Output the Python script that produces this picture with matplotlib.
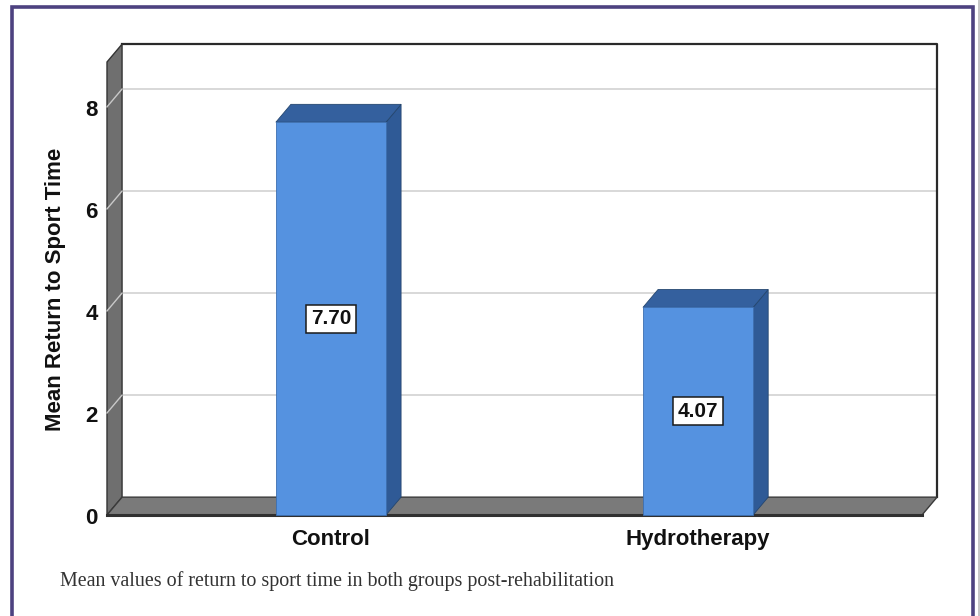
import matplotlib
matplotlib.use("Agg")
import matplotlib.pyplot as plt
from matplotlib.patches import Polygon, Rectangle
from matplotlib.lines import Line2D

# data
groups = ["Control", "Hydrotherapy"]
means = [7.70, 4.07]
yticks = [0, 2, 4, 6, 8]
ylabel = "Mean Return to Sport Time"
caption = "Mean values of return to sport time in both groups post-rehabilitation"

# colours
bar_front = "#5592e0"
bar_side = "#2f5a96"
bar_top = "#34609e"
wall_grey = "#6f6f6f"
floor_grey = "#7a7a7a"
grid_col = "#d6d6d6"
frame_col = "#4d4280"

XMIN, XMAX = -0.61, 1.61
YMAX = 8.88
BAR_W = 0.30
DX, DY = 0.041, 0.35   # depth of the 3D box in data units

fig = plt.figure(figsize=(9.8, 6.16), dpi=100)
fig.patch.set_facecolor("white")

# outer frame with a soft shadow on the right
fig.add_artist(Rectangle((978 / 980, -0.1), 0.004, 1.1, transform=fig.transFigure,
                         facecolor="#c8c8c8", edgecolor="none", zorder=0))
fig.add_artist(Rectangle((11.5 / 980, -0.05), 961 / 980, (609 / 616) + 0.05,
                         transform=fig.transFigure, facecolor="none",
                         edgecolor=frame_col, linewidth=2.6, zorder=1))

ax = fig.add_axes([107 / 980, 101 / 616, 815 / 980, 453 / 616])
ax.set_xlim(XMIN, XMAX)
ax.set_ylim(0, YMAX)
ax.axis("off")


def poly(pts, fc, ec="none", lw=0, z=1):
    ax.add_patch(Polygon(pts, closed=True, facecolor=fc, edgecolor=ec,
                         linewidth=lw, clip_on=False, zorder=z))


# back wall
poly([(XMIN + DX, DY), (XMAX + DX, DY), (XMAX + DX, YMAX + DY), (XMIN + DX, YMAX + DY)], "white", z=1)
for t in yticks[1:]:
    ax.add_line(Line2D([XMIN + DX, XMAX + DX], [t + DY, t + DY], color=grid_col,
                       lw=1.3, clip_on=False, zorder=2))
    ax.add_line(Line2D([XMIN, XMIN + DX], [t, t + DY], color="#c9c9c9",
                       lw=1.0, clip_on=False, zorder=4))
ax.add_line(Line2D([XMIN + DX, XMAX + DX, XMAX + DX], [YMAX + DY, YMAX + DY, DY],
                   color="#2a2a2a", lw=1.6, clip_on=False, zorder=3))

# left wall
poly([(XMIN, 0), (XMIN + DX, DY), (XMIN + DX, YMAX + DY), (XMIN, YMAX)],
     wall_grey, ec="#333333", lw=1.0, z=3)

# floor
poly([(XMIN, 0), (XMAX, 0), (XMAX + DX, DY), (XMIN + DX, DY)],
     floor_grey, ec="#3a3a3a", lw=1.0, z=3)
ax.add_line(Line2D([XMIN, XMAX], [0, 0], color="#303030", lw=2.2,
                   clip_on=False, zorder=5))

# bars
for i, v in enumerate(means):
    x0, x1 = i - BAR_W / 2, i + BAR_W / 2
    poly([(x1, 0), (x1 + DX, DY), (x1 + DX, v + DY), (x1, v)], bar_side,
         ec="#24466f", lw=0.6, z=6)
    poly([(x0, v), (x1, v), (x1 + DX, v + DY), (x0 + DX, v + DY)], bar_top,
         ec="#24466f", lw=0.6, z=6)
    ax.add_patch(Rectangle((x0, 0), BAR_W, v, facecolor=bar_front,
                           edgecolor="#3d6fb0", linewidth=0.6,
                           clip_on=False, zorder=7))
    ax.text(i, v / 2, f"{v:.2f}", ha="center", va="center", fontsize=15,
            fontweight="bold", family="Liberation Sans", color="#111111", zorder=8,
            bbox=dict(boxstyle="square,pad=0.22", facecolor="white",
                      edgecolor="#1a1a1a", linewidth=1.1))
    ax.text(i, -0.27, groups[i], ha="center", va="top", fontsize=16,
            fontweight="bold", family="Liberation Sans", color="#111111")

# y tick labels
for t in yticks:
    ax.annotate(str(t), xy=(XMIN, t), xytext=(-9, -4), textcoords="offset pixels",
                ha="right", va="center", fontsize=16, fontweight="bold",
                family="Liberation Sans", color="#111111", annotation_clip=False)

fig.text(55 / 980, 1 - 289 / 616, ylabel, rotation=90, ha="center", va="center",
         fontsize=16, fontweight="bold", family="Liberation Sans", color="#111111")

fig.text(60 / 980, 1 - 581 / 616, caption, ha="left", va="center",
         fontsize=14.4, family="Liberation Serif", color="#333333")

fig.savefig("out.png", dpi=100, facecolor="white")
